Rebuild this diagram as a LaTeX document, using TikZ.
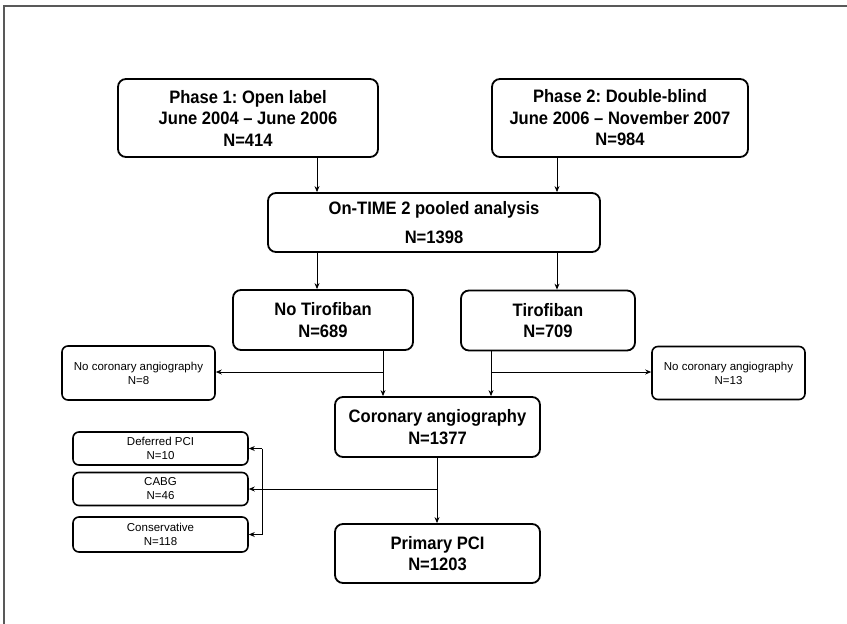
\documentclass[tikz,border=0pt]{standalone}
\usepackage{fontspec}
\setmainfont{Liberation Sans}
\newfontfamily\bigfont[FakeStretch=0.92,Ligatures=TeX]{Liberation Sans}
\usetikzlibrary{arrows.meta}
\frenchspacing
\begin{document}
\begin{tikzpicture}[x=1pt,y=-1pt,
  bigbox/.style={draw=black, line width=1.8pt, rounded corners=8pt, align=center,
    font=\bigfont\fontsize{18}{21.5}\selectfont\bfseries, inner sep=0pt},
  smallbox/.style={draw=black, line width=1.6pt, rounded corners=6pt, align=center,
    font=\fontsize{11.5}{14}\selectfont, inner sep=0pt},
  arr/.style={line width=0.9pt, -{Stealth[length=6pt,width=5pt]}},
  ln/.style={line width=0.9pt}]
\useasboundingbox (0,0) rectangle (847,624);
% frame
\draw[black!65, line width=1.6pt] (4,624) -- (4,6) -- (847,6);
% nodes
\node[bigbox, minimum width=260pt, minimum height=78pt] (p1) at (248,118)
  {Phase 1: Open label\\June 2004 – June 2006\\N=414};
\node[bigbox, minimum width=256pt, minimum height=78pt] (p2) at (620,118)
  {Phase 2: Double-blind\\June 2006 – November 2007\\N=984};
\node[bigbox, minimum width=332pt, minimum height=59pt] (pool) at (434,222.5)
  {On-TIME 2 pooled analysis\\[7pt]N=1398};
\node[bigbox, minimum width=180pt, minimum height=60pt] (notiro) at (323,320)
  {No Tirofiban\\N=689};
\node[bigbox, minimum width=174pt, minimum height=60pt] (tiro) at (548,320.5)
  {Tirofiban\\N=709};
\node[smallbox, minimum width=153pt, minimum height=54pt] (nocL) at (138.5,373)
  {No coronary angiography\\N=8};
\node[smallbox, minimum width=153pt, minimum height=53pt] (nocR) at (728.5,373)
  {No coronary angiography\\N=13};
\node[bigbox, minimum width=205pt, minimum height=60pt] (cor) at (437.5,427)
  {Coronary angiography\\N=1377};
\node[smallbox, minimum width=175pt, minimum height=33pt] (def) at (160.5,448.5)
  {Deferred PCI\\N=10};
\node[smallbox, minimum width=175pt, minimum height=33pt] (cabg) at (160.5,489)
  {CABG\\N=46};
\node[smallbox, minimum width=175pt, minimum height=35pt] (cons) at (160.5,534.5)
  {Conservative\\N=118};
\node[bigbox, minimum width=205pt, minimum height=59pt] (prim) at (437.5,553.5)
  {Primary PCI\\N=1203};
% helper coordinates
\coordinate (xA) at (317,0);
\coordinate (xB) at (557,0);
\coordinate (xC) at (383,0);
\coordinate (xD) at (491,0);
\coordinate (xE) at (437,0);
\coordinate (xV) at (262,0);
\coordinate (yS) at (0,372);
% connectors
\draw[arr] (p1.south -| xA) -- (pool.north -| xA);
\draw[arr] (p2.south -| xB) -- (pool.north -| xB);
\draw[arr] (pool.south -| xA) -- (notiro.north -| xA);
\draw[arr] (pool.south -| xB) -- (tiro.north -| xB);
\draw[arr] (notiro.south -| xC) -- (cor.north -| xC);
\draw[arr] (xC |- yS) -- (nocL.east |- yS);
\draw[arr] (tiro.south -| xD) -- (cor.north -| xD);
\draw[arr] (xD |- yS) -- (nocR.west |- yS);
\draw[arr] (cor.south -| xE) -- (prim.north -| xE);
\draw[arr] (xE |- cabg.east) -- (cabg.east);
\draw[ln] (xV |- def.east) -- (xV |- cons.east);
\draw[arr] (xV |- def.east) -- (def.east);
\draw[arr] (xV |- cons.east) -- (cons.east);
\end{tikzpicture}
\end{document}
